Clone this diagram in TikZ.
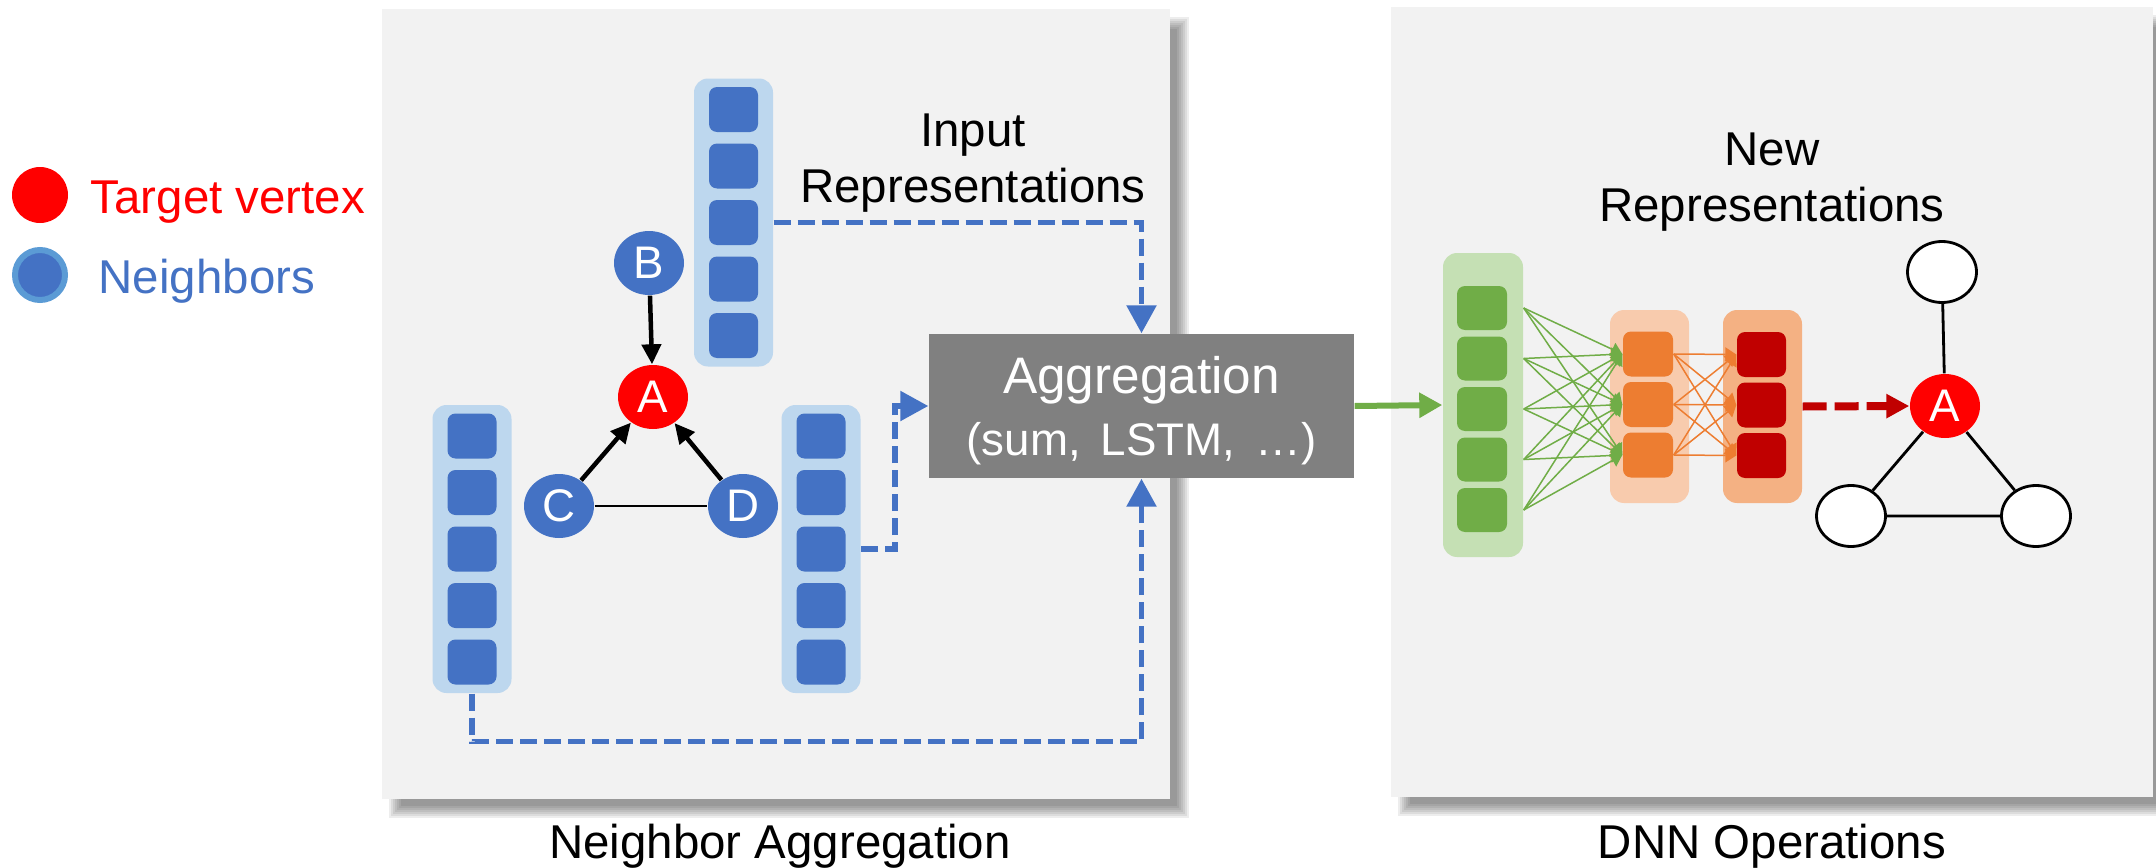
\documentclass[tikz,border=0pt]{standalone}
\usepackage{fontspec}
\setmainfont{Liberation Sans}
\usetikzlibrary{arrows.meta,positioning,calc,shapes.geometric}

\definecolor{panel}{HTML}{F2F2F2}
\definecolor{nblue}{HTML}{4472C4}
\definecolor{nring}{HTML}{5B9BD5}
\definecolor{vblue}{HTML}{BDD7EE}
\definecolor{aggray}{HTML}{808080}
\definecolor{dgreen}{HTML}{70AD47}
\definecolor{lgreen}{HTML}{C5E0B4}
\definecolor{dorange}{HTML}{ED7D31}
\definecolor{lorange}{HTML}{F8CBAD}
\definecolor{morange}{HTML}{F4B183}
\definecolor{dred}{HTML}{C00000}

\tikzset{
  vecbox/.style={rectangle,rounded corners=1.4mm,inner sep=0pt,minimum width=7.9mm},
  cell/.style={rectangle,rounded corners=0.8mm,inner sep=0pt,minimum width=4.9mm,minimum height=4.5mm},
  vtx/.style={ellipse,inner sep=0pt,minimum width=7mm,minimum height=6.4mm,text=white,font=\fontsize{13}{15}\selectfont},
  wvtx/.style={ellipse,inner sep=0pt,minimum width=6.9mm,minimum height=6.1mm,fill=white,draw=black,line width=0.28mm},
  lbl/.style={inner sep=0pt,font=\fontsize{13.5}{15.8}\selectfont},
  feed/.style={nblue,line width=0.55mm,dash pattern=on 1.7mm off 0.7mm,-{Triangle[length=2.8mm,width=2.9mm]}},
  gline/.style={dgreen,line width=0.15mm,-{Triangle[length=1.1mm,width=1.4mm]}},
  oline/.style={dorange,line width=0.15mm,-{Triangle[length=1.1mm,width=1.4mm]}},
  edgearr/.style={line width=0.45mm,-{Triangle[length=2mm,width=1.9mm]}},
}

\begin{document}
\begin{tikzpicture}[x=0.1mm,y=-0.1mm]
  \useasboundingbox (0,0) rectangle (2156,868);
  % shadows
  \foreach \b in {0,...,6}{
    \fill[black,opacity=0.07] (401-2*\b,29-2*\b) rectangle (1177+2*\b,806+2*\b);
    \fill[black,opacity=0.07] (1410-2*\b,27-2*\b) rectangle (2160+2*\b,804+2*\b);
  }
  \fill[panel] (382,9) rectangle (1170,799);
  \fill[panel] (1391,7) rectangle (2153,797);

  % legend
  \node[circle,fill=red,minimum size=5.6mm,inner sep=0pt] (tgt) at (40,195) {};
  \node[lbl,text=red,anchor=base west] (tgttext) at (90,213) {Target vertex};
  \node[circle,fill=nblue,draw=nring,line width=0.6mm,minimum size=5mm,inner sep=0pt] (nbr) at (40,275) {};
  \node[lbl,text=nblue,anchor=base west] (nbrtext) at (98,293) {Neighbors};

  % input representations
  \foreach \v/\x/\y in {bvec/733.5/222.5,cvec/472/549,dvec/821/549}{
    \node[vecbox,fill=vblue,minimum height=28.8mm] (\v) at (\x,\y) {};
    \foreach \k in {1,...,5}
      \node[cell,fill=nblue] (\v\k) at ($(\v.center)+(0,{(\k-3)*56.5})$) {};
  }
  \node[lbl,align=center] (inrep) at (973,163) {Input\\Representations};

  % graph
  \node[vtx,fill=nblue] (B) at (649,263) {B};
  \node[vtx,fill=red] (A) at (653,397) {A};
  \node[vtx,fill=nblue] (C) at (559,506) {C};
  \node[vtx,fill=nblue] (D) at (743,506) {D};
  \draw[edgearr] (B) -- (A);
  \draw[edgearr] (C) -- (A);
  \draw[edgearr] (D) -- (A);
  \draw[line width=0.23mm] (C) -- (D);

  % aggregation
  \node[fill=aggray,minimum width=42.5mm,minimum height=14.4mm,inner sep=0pt] (agg) at (1141.5,406) {};
  \node[text=white,align=center,inner sep=0pt,font=\fontsize{14.6}{17.6}\selectfont] (aggtext) at (1141.5,411)
    {Aggregation\\{\fontsize{13}{17.6}\selectfont(sum,\hspace{2mm}LSTM,\hspace{2mm}…)}};
  \draw[feed] (bvec.east) -| (agg.north);
  \draw[feed] (dvec.east) -- ++(34,0) |- (agg.west);
  \draw[feed] (cvec.south) -- ++(0,48) -| (agg.south);

  % dnn
  \node[vecbox,fill=lgreen,minimum width=8mm,minimum height=30.4mm] (gvec) at (1483,405) {};
  \foreach \k in {1,...,5}
    \node[cell,fill=dgreen,minimum width=5mm,minimum height=4.4mm] (g\k) at (1482,{308+(\k-1)*50.5}) {};
  \node[vecbox,fill=lorange,minimum height=19.3mm] (ovec) at (1649.5,406.5) {};
  \foreach \k in {1,2,3}
    \node[cell,fill=dorange,minimum width=5mm] (o\k) at (1648,{354+(\k-1)*50.5}) {};
  \node[vecbox,fill=morange,minimum height=19.3mm] (rvec) at (1762.5,406.5) {};
  \foreach \k in {1,2,3}
    \node[cell,fill=dred] (r\k) at (1761.5,{354.5+(\k-1)*50.5}) {};
  \draw[dgreen,line width=0.6mm,-{Triangle[length=2.3mm,width=2.4mm]}] (agg.east) -- (gvec.west);
  \foreach \i in {1,...,5}
    \foreach \j in {1,2,3}
      \draw[gline] (g\i.center -| gvec.east) -- (o\j.west);
  \foreach \i in {1,2,3}
    \foreach \j in {1,2,3}
      \draw[oline] (o\i.east) -- (r\j.west);
  \node[lbl,align=center] (newrep) at (1772,182) {New\\Representations};

  % new graph
  \node[wvtx] (n1) at (1942,272) {};
  \node[vtx,fill=red] (nA) at (1945,406) {A};
  \node[wvtx] (n2) at (1851,516) {};
  \node[wvtx] (n3) at (2036,516) {};
  \draw[line width=0.28mm] (n1) -- (nA) (nA) -- (n2) (nA) -- (n3) (n2) -- (n3);
  \draw[dred,line width=0.8mm,dash pattern=on 2.4mm off 0.8mm,-{Triangle[length=2.3mm,width=2.3mm]}] (rvec.east) -- (nA.west);

  % captions
  \node[lbl,anchor=base] (capl) at (780,858) {Neighbor Aggregation};
  \node[lbl,anchor=base] (capr) at (1772,858) {DNN Operations};
\end{tikzpicture}
\end{document}
